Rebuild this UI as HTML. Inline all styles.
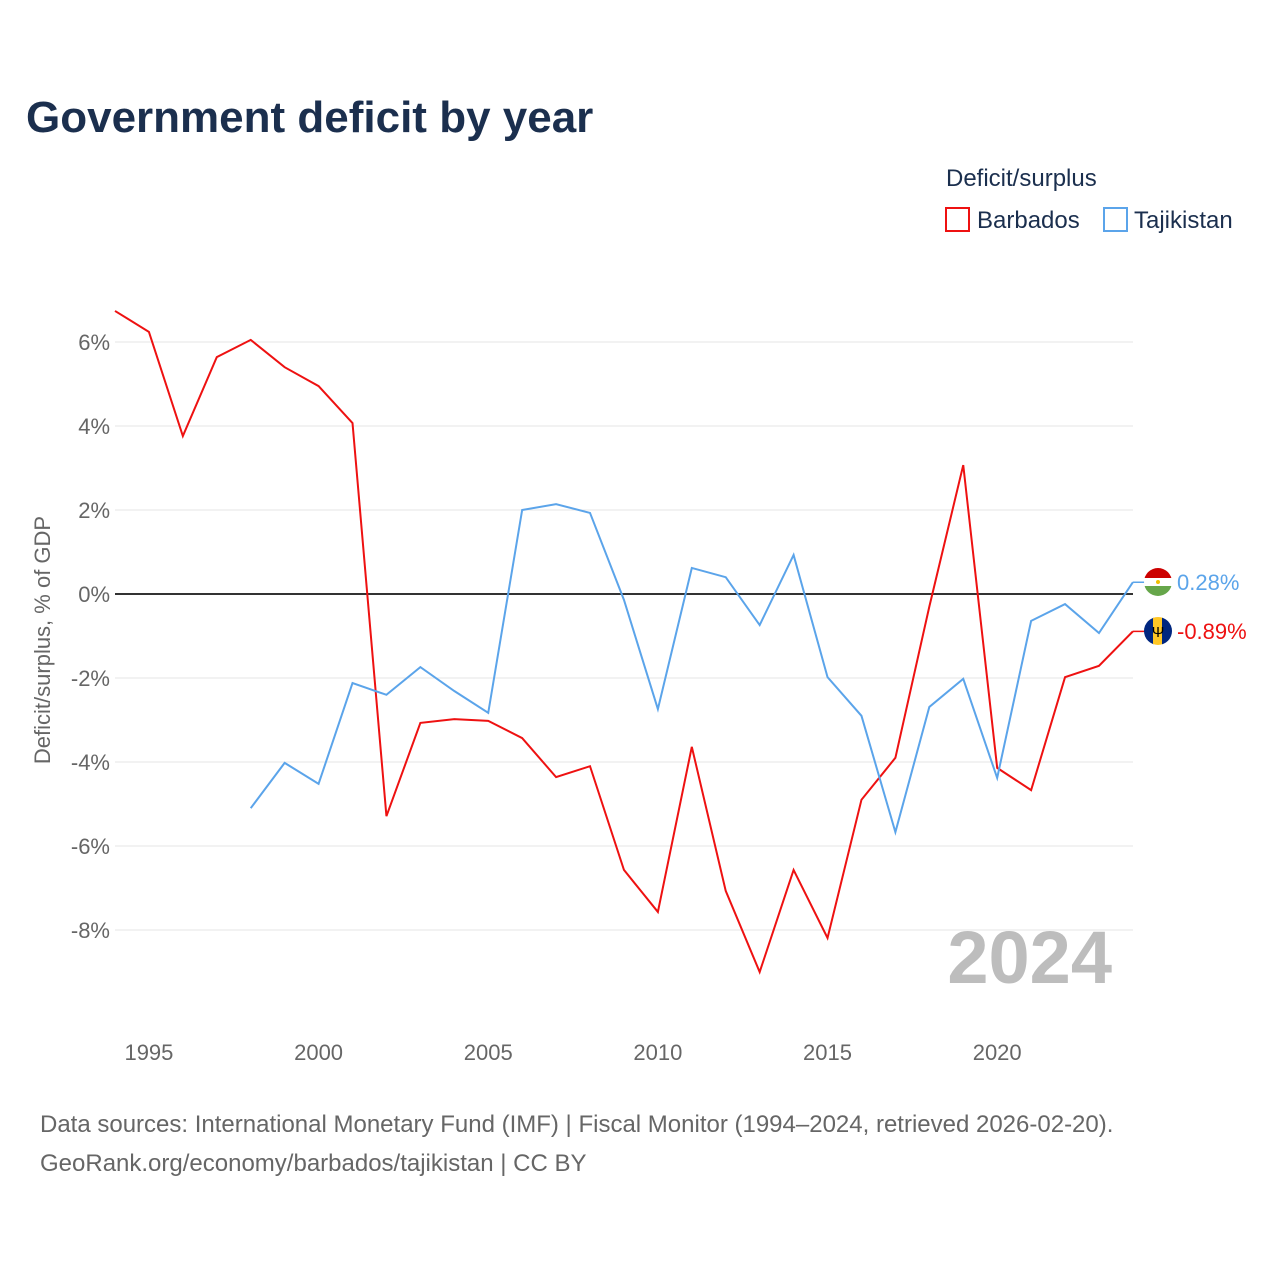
<!DOCTYPE html>
<html><head><meta charset="utf-8">
<style>
body{margin:0;background:#fff;font-family:"Liberation Sans",sans-serif;}
svg text{font-family:"Liberation Sans",sans-serif;}
</style></head>
<body>
<svg id="chart" width="1280" height="1280" viewBox="0 0 1280 1280" xmlns="http://www.w3.org/2000/svg">
<defs>
<clipPath id="cTj"><circle cx="1158" cy="582" r="14"/></clipPath>
<clipPath id="cBb"><circle cx="1158" cy="631" r="14"/></clipPath>
</defs>
<text x="26" y="132" font-size="44" font-weight="bold" fill="#1b2f4e">Government deficit by year</text>
<text x="946" y="186" font-size="24" fill="#1b2f4e">Deficit/surplus</text>
<g><rect x="946" y="208" width="23" height="23" fill="none" stroke="#ee1111" stroke-width="2"/><text x="977" y="228" font-size="24" fill="#1b2f4e">Barbados</text></g>
<g><rect x="1104" y="208" width="23" height="23" fill="none" stroke="#5ba4ea" stroke-width="2"/><text x="1134" y="228" font-size="24" fill="#1b2f4e">Tajikistan</text></g>
<text transform="translate(50,640) rotate(-90)" text-anchor="middle" font-size="22" fill="#666">Deficit/surplus, % of GDP</text>
<g id="grid"></g><g id="axes"></g>
<text x="1112" y="983" text-anchor="end" font-size="74" font-weight="bold" fill="#bdbdbd">2024</text>
<g id="series"></g>
<text x="40" y="1132" font-size="24" fill="#666">Data sources: International Monetary Fund (IMF) | Fiscal Monitor (1994–2024, retrieved 2026-02-20).</text>
<text x="40" y="1171" font-size="24" fill="#666">GeoRank.org/economy/barbados/tajikistan | CC BY</text>
</svg>
<script>
const years=[1994,1995,1996,1997,1998,1999,2000,2001,2002,2003,2004,2005,2006,2007,2008,2009,2010,2011,2012,2013,2014,2015,2016,2017,2018,2019,2020,2021,2022,2023,2024];
const barbados=[6.74,6.24,3.76,5.64,6.05,5.40,4.95,4.07,-5.29,-3.07,-2.98,-3.02,-3.43,-4.36,-4.10,-6.57,-7.57,-3.64,-7.07,-9.0,-6.57,-8.19,-4.90,-3.90,-0.3,3.07,-4.14,-4.67,-1.98,-1.71,-0.89];
const tajikistan=[null,null,null,null,-5.10,-4.02,-4.52,-2.12,-2.40,-1.74,-2.31,-2.83,2.0,2.14,1.93,-0.14,-2.74,0.62,0.40,-0.74,0.93,-1.98,-2.90,-5.67,-2.69,-2.02,-4.38,-0.64,-0.24,-0.93,0.28];
const yTicks=[6,4,2,0,-2,-4,-6,-8];
const xTicks=[1995,2000,2005,2010,2015,2020];
const NS="http://www.w3.org/2000/svg";
const x=v=>115+(v-1994)*33.93;
const y=v=>594-v*42;
function mk(t,a,p){const e=document.createElementNS(NS,t);for(const k in a)e.setAttribute(k,a[k]);p.appendChild(e);return e;}
const grid=document.getElementById('grid'),axes=document.getElementById('axes'),ser=document.getElementById('series');
yTicks.forEach(v=>{
 const l=mk('line',{x1:115,x2:1133,y1:y(v),y2:y(v),stroke:v===0?'#333':'#e6e6e6','stroke-width':v===0?2:1},grid);
 
 
 const t=mk('text',{x:110,y:y(v)+8,'text-anchor':'end','font-size':22,fill:'#666'},axes);
 t.textContent=v+'%';
 
 
});
xTicks.forEach(v=>{
 const t=mk('text',{x:x(v),y:1060,'text-anchor':'middle','font-size':22,fill:'#666'},axes);
 t.textContent=v;
 
 
});
function line(vals,color,name){
 let d='';vals.forEach((v,i)=>{if(v===null)return;d+=(d?'L':'M')+x(years[i])+','+y(v);});
 const p=mk('path',{d:d,fill:'none',stroke:color,'stroke-width':2},ser);
 
 
}
line(barbados,'#ee1111','barbados-line');
line(tajikistan,'#5ba4ea','tajikistan-line');
function endLabel(v,color,name,flag){
 const yy=y(v),g=mk('g',{},ser);
 
 
 mk('line',{x1:x(2024),x2:1146,y1:yy,y2:yy,stroke:color,'stroke-width':1.5},g);
 const cy=flag==='tj'?582:631;
 const f=mk('g',{'clip-path':flag==='tj'?'url(#cTj)':'url(#cBb)'},g);
 if(flag==='tj'){
  mk('rect',{x:1144,y:cy-14,width:28,height:10,fill:'#cc0000'},f);
  mk('rect',{x:1144,y:cy-4,width:28,height:8,fill:'#fff'},f);
  mk('rect',{x:1144,y:cy+4,width:28,height:10,fill:'#66a64a'},f);
  mk('circle',{cx:1158,cy:cy,r:2,fill:'#f0c000'},f);
 }else{
  mk('rect',{x:1144,y:cy-14,width:10,height:28,fill:'#00267f'},f);
  mk('rect',{x:1153,y:cy-14,width:10,height:28,fill:'#ffc726'},f);
  mk('rect',{x:1162,y:cy-14,width:10,height:28,fill:'#00267f'},f);
  const s=mk('text',{x:1158,y:cy+6,'text-anchor':'middle','font-size':15,fill:'#000'},f);s.textContent='Ψ';
 }
 const t=mk('text',{x:1177,y:cy+8,'font-size':22,fill:color},g);
 t.textContent=v.toFixed(2)+'%';
}
endLabel(tajikistan[tajikistan.length-1],'#5ba4ea','tajikistan-end-label','tj');
endLabel(barbados[barbados.length-1],'#ee1111','barbados-end-label','bb');
</script>
</body></html>
